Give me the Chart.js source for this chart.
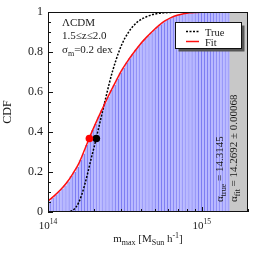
<!DOCTYPE html>
<html><head><meta charset="utf-8">
<script src="https://cdn.jsdelivr.net/npm/chart.js@4/dist/chart.umd.min.js"></script>
<style>html,body{margin:0;padding:0;background:#fff;overflow:hidden}</style>
</head><body>
<canvas id="c" width="266" height="253"></canvas>
<script>
// ---- data (x in log10 of m_max [M_Sun/h]) ----
const binLogMass = [14.01,14.03,14.05,14.07,14.09,14.11,14.13,14.15,14.17,14.19,
  14.21,14.23,14.25,14.27,14.29,14.31,14.33,14.35,14.37,14.39,
  14.41,14.43,14.45,14.47,14.49,14.51,14.53,14.55,14.57,14.59,
  14.61,14.63,14.65,14.67,14.69,14.71,14.73,14.75,14.77,14.79,
  14.81,14.83,14.85,14.87,14.89,14.91,14.93,14.95,14.97,14.99,
  15.01,15.03,15.05,15.07,15.09,15.11,15.13,15.15,15.17];
const cdfHist = [0.055,0.07,0.085,0.1,0.115,0.133,0.153,0.18,0.2,0.226,
  0.262,0.293,0.335,0.37,0.41,0.44,0.478,0.51,0.545,0.575,
  0.61,0.636,0.668,0.698,0.722,0.748,0.77,0.79,0.812,0.83,
  0.848,0.866,0.882,0.898,0.912,0.927,0.94,0.95,0.961,0.969,
  0.976,0.982,0.987,0.99,0.993,0.996,0.997,0.998,0.999,1,
  1,1,1,1,1,1,1,1,1];
const fitLogMass = [14.00,14.04,14.08,14.12,14.16,14.20,14.24,14.28,14.32,14.36,14.40,14.44,14.48,
  14.52,14.56,14.60,14.64,14.68,14.72,14.76,14.80,14.84,14.88,14.92,14.96,15.00,15.18];
const fitCdf = [0.055,0.081,0.110,0.145,0.19,0.242,0.315,0.391,0.461,0.527,0.592,0.652,0.71,
  0.758,0.8,0.84,0.874,0.905,0.933,0.956,0.973,0.985,0.992,0.997,0.999,1,1];
const trueLogMass = [14.10,14.12,14.14,14.16,14.18,14.20,14.22,14.24,14.26,14.28,14.30,14.32,14.34,14.36,
  14.38,14.40,14.42,14.44,14.46,14.48,14.50,14.52,14.54,14.56,14.58,14.60,14.62,14.64,14.66,14.68,
  14.72,14.76,14.80,14.85,15.18];
const trueCdf = [0,0,0.002,0.008,0.022,0.048,0.088,0.14,0.2,0.265,0.325,0.39,0.455,0.52,
  0.585,0.648,0.705,0.755,0.8,0.838,0.87,0.895,0.918,0.935,0.95,0.961,0.97,0.977,0.983,0.988,
  0.994,0.997,0.999,1,1];
const alphaTrue = 14.3145;
const alphaFit = 14.2692;
const alphaFitErr = '0.00068';
const dotCdf = 0.368;
const shadedFrom = 15.18;
const xMinLog = 14, xMaxLog = 15.30103;
const xMajorTicks = [14, 15];
const xTickBase = ['10', '10'];
const xTickExp = ['14', '15'];
const xMinorTicks = [14.30103,14.47712,14.60206,14.69897,14.77815,14.84510,14.90309,14.95424,15.30103];
const yTickLabels = ['0', '0.2', '0.4', '0.6', '0.8', '1'];
const infoLines = ['\u039BCDM', '1.5\u2264z\u22642.0'];
const legendLabels = ['True', 'Fit'];

const SERIF = '"Liberation Serif","DejaVu Serif",serif';
const TXT = '#1a1a1a';

function font(sz){ return sz + 'px ' + SERIF; }

function pieces(ctx, parts, x, y){
  let cx = x;
  for (const p of parts){
    ctx.font = font(p[1]);
    ctx.fillText(p[0], cx, y + (p[2]||0));
    cx += ctx.measureText(p[0]).width;
  }
  return cx - x;
}
function piecesWidth(ctx, parts){
  let w = 0;
  for (const p of parts){ ctx.font = font(p[1]); w += ctx.measureText(p[0]).width; }
  return w;
}

const decor = {
  id: 'decor',
  afterDatasetsDraw(chart){
    const {ctx, chartArea: a, scales} = chart;
    const xs = scales.x, ys = scales.y;
    ctx.save();
    ctx.strokeStyle = '#111';
    ctx.lineWidth = 1;
    ctx.strokeRect(Math.round(a.left)+0.5, Math.round(a.top)+0.5, Math.round(a.right-a.left)-1, Math.round(a.bottom-a.top)-1);
    ctx.beginPath();
    for (let i = 0; i <= 20; i++){
      const v = i*0.05;
      const py = Math.round(ys.getPixelForValue(v)) + 0.5;
      const len = (i % 4 === 0) ? 5 : 3;
      ctx.moveTo(a.left, py); ctx.lineTo(a.left + len, py);
    }
    for (const v of xMajorTicks){
      const px = Math.round(xs.getPixelForValue(v)) + 0.5;
      ctx.moveTo(px, a.bottom); ctx.lineTo(px, a.bottom - 5);
    }
    for (const v of xMinorTicks){
      const px = Math.round(xs.getPixelForValue(v)) + 0.5;
      ctx.moveTo(px, a.bottom); ctx.lineTo(px, a.bottom - 3);
    }
    ctx.stroke();
    ctx.restore();
  },
  afterDraw(chart){
    const {ctx, chartArea: a, scales} = chart;
    const xs = scales.x;
    ctx.save();
    ctx.fillStyle = TXT;
    ctx.textBaseline = 'alphabetic';
    ctx.textAlign = 'left';
    xMajorTicks.forEach((v, i) => {
      const parts = [[xTickBase[i], 11, 0], [xTickExp[i], 7.5, -5]];
      const w = piecesWidth(ctx, parts);
      pieces(ctx, parts, xs.getPixelForValue(v) - w/2, a.bottom + 17);
    });
    const tparts = [['m', 11, 0], ['max', 8, 3], [' [M', 11, 0], ['Sun', 8, 3], [' h', 11, 0], ['-1', 8, -4], [']', 11, 0]];
    const tw = piecesWidth(ctx, tparts);
    pieces(ctx, tparts, (a.left + a.right)/2 - tw/2, a.bottom + 30);
    ctx.font = font(11);
    ctx.fillText(infoLines[0], a.left + 14, a.top + 14);
    ctx.fillText(infoLines[1], a.left + 14, a.top + 27);
    pieces(ctx, [['\u03C3', 11, 0], ['m', 8, 3], ['=0.2 dex', 11, 0]], a.left + 14, a.top + 41);
    const drawRot = (x, parts) => {
      ctx.save();
      ctx.translate(x, a.bottom - 10);
      ctx.rotate(-Math.PI/2);
      pieces(ctx, parts, 0, 0);
      ctx.restore();
    };
    drawRot(223, [['\u03B1', 11, 0], ['true', 8, 3], [' = ' + alphaTrue.toFixed(4), 11, 0]]);
    drawRot(237, [['\u03B1', 11, 0], ['fit', 8, 3], [' = ' + alphaFit.toFixed(4) + ' \u00B1 ' + alphaFitErr, 11, 0]]);
    const lx = 175.5, ly = 22.5, lw = 66, lh = 26;
    ctx.fillStyle = '#555';
    ctx.fillRect(lx + 3, ly + 3, lw, lh);
    ctx.fillStyle = '#fff';
    ctx.fillRect(lx, ly, lw, lh);
    ctx.strokeStyle = '#111'; ctx.lineWidth = 1;
    ctx.strokeRect(lx, ly, lw, lh);
    ctx.beginPath(); ctx.setLineDash([2, 1.5]); ctx.strokeStyle = '#000'; ctx.lineWidth = 1.5;
    ctx.moveTo(186, 31.5); ctx.lineTo(199, 31.5); ctx.stroke();
    ctx.beginPath(); ctx.setLineDash([]); ctx.strokeStyle = '#ff1010'; ctx.lineWidth = 1.5;
    ctx.moveTo(186, 41.5); ctx.lineTo(199, 41.5); ctx.stroke();
    ctx.fillStyle = TXT; ctx.font = font(10.5);
    ctx.fillText(legendLabels[0], 205, 35.5);
    ctx.fillText(legendLabels[1], 205, 45.5);
    ctx.restore();
  }
};

new Chart(document.getElementById('c'), {
  type: 'bar',
  data: {
    datasets: [
      { type: 'line', label: 'fit point', data: [{x: alphaFit, y: dotCdf}], showLine: false,
        pointRadius: 3.8, pointBackgroundColor: '#ff0000', pointBorderWidth: 0, order: 0 },
      { type: 'line', label: 'true point', data: [{x: alphaTrue, y: dotCdf}], showLine: false,
        pointRadius: 3.8, pointBackgroundColor: '#000', pointBorderWidth: 0, order: 1 },
      { type: 'line', label: 'True', data: trueLogMass.map((x, i) => ({x, y: trueCdf[i]})),
        borderColor: '#000', borderWidth: 1.5, borderDash: [2, 1.5], pointRadius: 0,
        cubicInterpolationMode: 'monotone', fill: false, order: 3 },
      { type: 'line', label: 'Fit', data: fitLogMass.map((x, i) => ({x, y: fitCdf[i]})),
        borderColor: '#ff1010', borderWidth: 1.5, pointRadius: 0,
        cubicInterpolationMode: 'monotone', fill: false, order: 2 },
      { type: 'line', label: 'shade', data: [{x: shadedFrom, y: 1}, {x: xMaxLog, y: 1}],
        borderWidth: 0, pointRadius: 0, fill: 'origin', backgroundColor: '#c8c8c8', order: 4 },
      { type: 'bar', label: 'hist', data: binLogMass.map((x, i) => ({x, y: cdfHist[i]})),
        backgroundColor: '#b8b8ff', borderColor: '#6e6ef0',
        borderWidth: {left: 0, right: 1, top: 0, bottom: 0}, borderSkipped: false,
        barPercentage: 1, categoryPercentage: 1, order: 5 }
    ]
  },
  options: {
    responsive: false,
    animation: false,
    devicePixelRatio: 1,
    layout: { padding: { left: 0, right: 18, top: 12, bottom: 41 } },
    plugins: { legend: { display: false }, tooltip: { enabled: false } },
    scales: {
      x: { type: 'linear', min: xMinLog, max: xMaxLog, offset: false, display: false,
           grid: { display: false, offset: false } },
      y: { type: 'linear', min: 0, max: 1,
           grid: { display: false, drawTicks: false }, border: { display: false },
           ticks: { stepSize: 0.2, padding: 5, color: TXT, font: { family: SERIF, size: 12 },
                    callback: (v, i) => yTickLabels[i] },
           title: { display: true, text: 'CDF', color: TXT, padding: { top: 1, bottom: 0 },
                    font: { family: SERIF, size: 12 } },
           afterFit(s){ s.width = 48; } }
    }
  },
  plugins: [decor]
});
</script>
</body></html>
